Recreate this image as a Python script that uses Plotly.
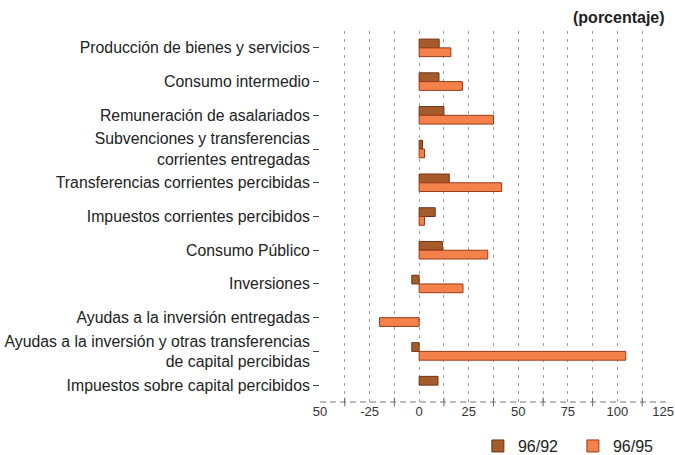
import plotly.graph_objects as go

categories = [
    "Producción de bienes y servicios",
    "Consumo intermedio",
    "Remuneración de asalariados",
    "Subvenciones y transferencias<br>corrientes entregadas",
    "Transferencias corrientes percibidas",
    "Impuestos corrientes percibidos",
    "Consumo Público",
    "Inversiones",
    "Ayudas a la inversión entregadas",
    "Ayudas a la inversión y otras transferencias<br>de capital percibidas",
    "Impuestos sobre capital percibidos",
]
s_96_92 = [10.1, 10.0, 12.5, 1.7, 15.2, 8.1, 11.7, -3.7, None, -3.7, 9.5]
s_96_95 = [16.0, 21.8, 37.5, 2.7, 41.6, 2.7, 34.6, 22.1, -20.0, 104.2, None]
tick_vals = [-50, -25, 0, 25, 50, 75, 100, 123]
tick_text = ["50", "-25", "0", "25", "50", "75", "100", "125"]
grid_vals = [-50, -37.5, -25, -12.5, 0, 12.5, 25, 37.5, 50, 62.5, 75,
             87.5, 100, 112.5, 125]
cross_vals = [-37.5, -12.5, 12.5, 37.5, 62.5, 87.5, 112.5]

fig = go.Figure()
fig.add_trace(go.Bar(
    y=categories, x=s_96_92, name="96/92", orientation="h",
    marker=dict(color="#a65b2b", line=dict(color="#6e3414", width=1)),
))
fig.add_trace(go.Bar(
    y=categories, x=s_96_95, name="96/95", orientation="h",
    marker=dict(color="#f5814a", line=dict(color="#9a3a18", width=1)),
))

fig.update_layout(
    width=675, height=455,
    margin=dict(l=320, r=8, t=31, b=53, autoexpand=False),
    paper_bgcolor="white", plot_bgcolor="white",
    barmode="group", bargap=0.48, bargroupgap=0,
    font=dict(family="Liberation Sans, Arial, sans-serif", size=14, color="#222"),
    legend=dict(orientation="h", x=0.455, xanchor="left",
                yref="container", y=0.057, yanchor="top",
                font=dict(size=16), itemwidth=30, traceorder="normal",
                entrywidth=50, entrywidthmode="pixels"),
    showlegend=True,
)
fig.update_xaxes(
    range=[-50, 125], tickvals=tick_vals, ticktext=tick_text,
    showgrid=False, zeroline=False,
    ticks="", tickfont=dict(size=13, color="#333"), ticklabeloverflow="allow",
    showline=False, automargin=False,
    minor=dict(tickmode="array", tickvals=grid_vals,
               ticks="", showgrid=True, gridcolor="#9a9a9a", griddash="3px,5px"),
)
fig.update_yaxes(
    autorange="reversed", ticks="outside", ticklen=6, tickcolor="#444",
    showgrid=False, showline=False, tickfont=dict(size=15.8, color="#222"),
    automargin=False,
)
# dashed baseline along the bottom of the plot area, with small cross ticks
fig.add_shape(type="line", xref="paper", yref="paper", x0=0, x1=1, y0=0, y1=0,
              line=dict(color="#777", width=1, dash="6px,4px"), layer="above")
for v in cross_vals:
    fig.add_shape(type="line", xref="x", yref="paper", x0=v, x1=v, y0=-0.012, y1=0.012,
                  line=dict(color="#666", width=1), layer="above")
fig.add_annotation(
    text="<b>(porcentaje)</b>", xref="paper", yref="paper", x=1.0, y=1.0,
    xanchor="right", yanchor="bottom", yshift=3, showarrow=False,
    font=dict(size=16, color="#222"),
)

fig.write_html("out.html", config={"displayModeBar": False},
               post_script="document.body.style.margin='0px';")
